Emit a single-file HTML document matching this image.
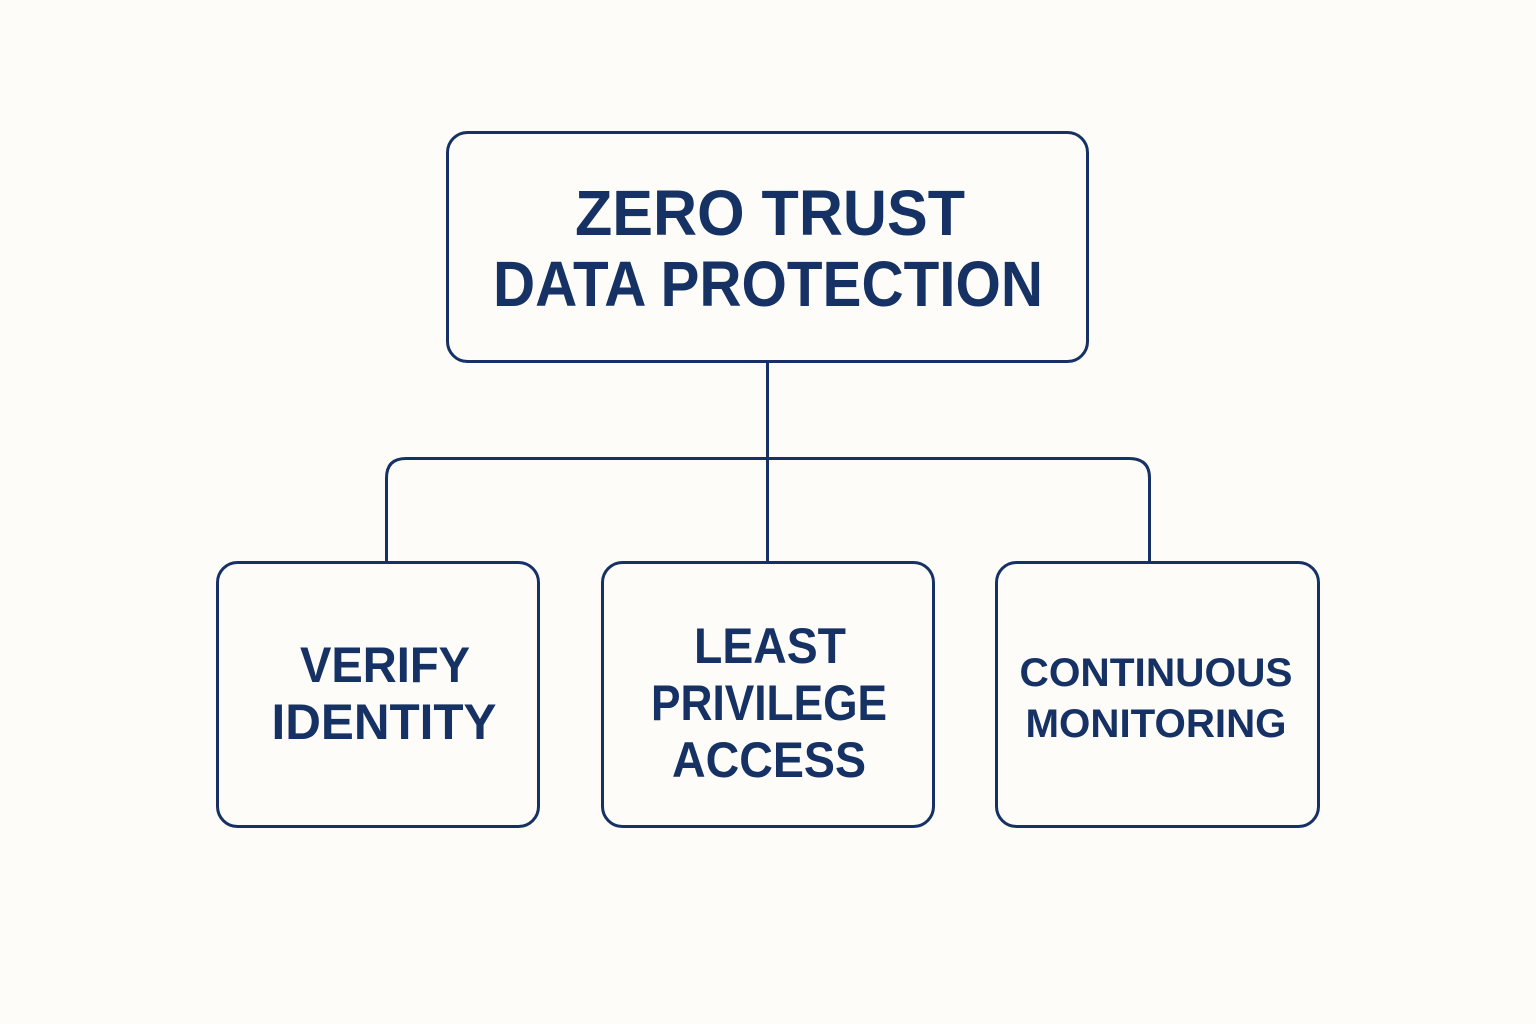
<!DOCTYPE html>
<html><head><meta charset="utf-8"><style>
html,body{margin:0;padding:0;background:#fdfcf9;}
svg{display:block}
text{font-family:"Liberation Sans","DejaVu Sans",sans-serif;font-weight:bold;fill:#163264;text-anchor:middle}
</style></head><body>
<svg width="1536" height="1024" viewBox="0 0 1536 1024">
<rect width="1536" height="1024" fill="#fdfcf9"/>
<g fill="none" stroke="#163264" stroke-width="3">
<rect x="447.5" y="132.5" width="640" height="229" rx="20"/>
<rect x="217.5" y="562.5" width="321" height="264" rx="20"/>
<rect x="602.5" y="562.5" width="331" height="264" rx="20"/>
<rect x="996.5" y="562.5" width="322" height="264" rx="20"/>
<line x1="767.5" y1="362" x2="767.5" y2="562"/>
<path d="M386.5 562 V478 Q386.5 458.5 406 458.5 H1129 Q1149.5 458.5 1149.5 478 V562"/>
</g>
<text x="770" y="235" font-size="64" textLength="390" lengthAdjust="spacingAndGlyphs">ZERO TRUST</text>
<text x="768" y="306" font-size="64" textLength="550" lengthAdjust="spacingAndGlyphs">DATA PROTECTION</text>
<text x="385" y="682" font-size="50" textLength="170" lengthAdjust="spacingAndGlyphs">VERIFY</text>
<text x="384" y="739" font-size="50" textLength="225" lengthAdjust="spacingAndGlyphs">IDENTITY</text>
<text x="770" y="663" font-size="50" textLength="152" lengthAdjust="spacingAndGlyphs">LEAST</text>
<text x="769" y="720" font-size="50" textLength="236" lengthAdjust="spacingAndGlyphs">PRIVILEGE</text>
<text x="769" y="777" font-size="50" textLength="194" lengthAdjust="spacingAndGlyphs">ACCESS</text>
<text x="1156" y="686" font-size="40" textLength="273" lengthAdjust="spacingAndGlyphs">CONTINUOUS</text>
<text x="1156" y="737" font-size="40" textLength="261" lengthAdjust="spacingAndGlyphs">MONITORING</text>
</svg>
</body></html>
